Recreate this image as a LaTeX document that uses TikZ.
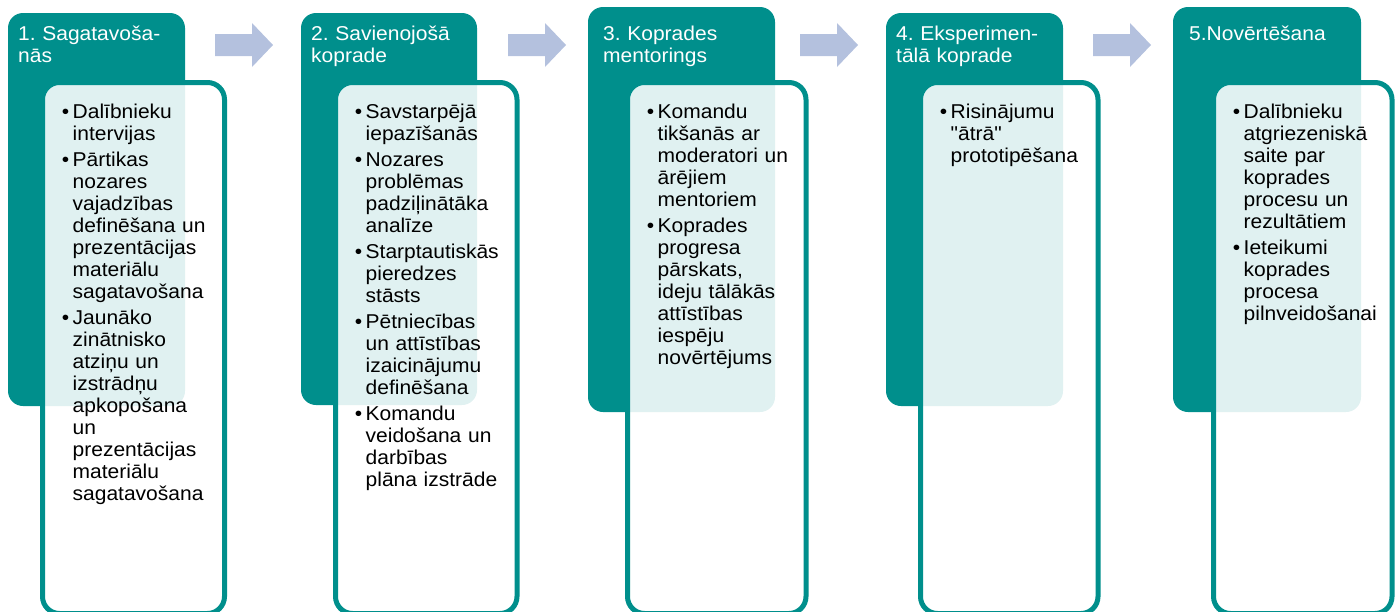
\documentclass[tikz,border=0pt]{standalone}
\usepackage{fontspec}
\setmainfont{Liberation Sans}
\newfontfamily\plainsans[FakeStretch=1.05]{Liberation Sans}
\definecolor{tealc}{RGB}{0,143,140}
\definecolor{arrowc}{RGB}{180,193,222}
\newcommand{\bul}{\leavevmode\llap{•\hspace{3.5pt}}}
\newcommand{\gap}{\par\vspace{4pt}}
\begin{document}
\frenchspacing
\begin{tikzpicture}[x=1pt,y=-1pt,
  hdr/.style={fill=tealc, rounded corners=15pt, inner sep=0pt, outer sep=0pt, anchor=north west},
  card/.style={draw=tealc, line width=5pt, fill=white, fill opacity=0.88, rounded corners=17pt, inner sep=0pt, outer sep=0pt, anchor=north west},
  htext/.style={text=white, font=\plainsans\fontsize{20}{22}\selectfont, align=left, text width=175pt, inner sep=0pt, anchor=base west},
  btext/.style={text=black, font=\plainsans\fontsize{20}{22}\selectfont, align=left, text width=170pt, inner sep=0pt, anchor=base west},
  blockarrow/.style={fill=arrowc, draw=none}]
\useasboundingbox (0,0) rectangle (1395,611);
\clip (0,0) rectangle (1395,611);
% headers
\node[hdr, minimum width=177pt, minimum height=393pt] (h1) at (8,13) {};
\node[hdr, minimum width=176pt, minimum height=392pt] (h2) at (301,13) {};
\node[hdr, minimum width=187pt, minimum height=405pt] (h3) at (588,7) {};
\node[hdr, minimum width=177pt, minimum height=393pt] (h4) at (886,13) {};
\node[hdr, minimum width=188pt, minimum height=405pt] (h5) at (1173,7) {};
% cards
\node[card, minimum width=182pt, minimum height=531pt] (c1) at (42.5,82.5) {};
\node[card, minimum width=181.5pt, minimum height=531pt] (c2) at (335.5,82.5) {};
\node[card, minimum width=178.5pt, minimum height=531pt] (c3) at (627.5,82.5) {};
\node[card, minimum width=177.5pt, minimum height=531pt] (c4) at (920.5,82.5) {};
\node[card, minimum width=178.5pt, minimum height=531pt] (c5) at (1213.5,82.5) {};
% arrows
\fill[blockarrow] (215,34) -- (252,34) -- (252,23) -- (273,45) -- (252,67) -- (252,56) -- (215,56) -- cycle;
\fill[blockarrow] (508,34) -- (545,34) -- (545,23) -- (566,45) -- (545,67) -- (545,56) -- (508,56) -- cycle;
\fill[blockarrow] (800,34) -- (837,34) -- (837,23) -- (858,45) -- (837,67) -- (837,56) -- (800,56) -- cycle;
\fill[blockarrow] (1093,34) -- (1130,34) -- (1130,23) -- (1151,45) -- (1130,67) -- (1130,56) -- (1093,56) -- cycle;
% header texts
\node[htext] (t1) at (18,40) {1. Sagatavoša-\\nās};
\node[htext] (t2) at (311,40) {2. Savienojošā\\koprade};
\node[htext] (t3) at (603,40) {3. Koprades\\mentorings};
\node[htext] (t4) at (896,40) {4. Eksperimen-\\tālā koprade};
\node[htext] (t5) at (1189,40) {5.Novērtēšana};
% body texts
\node[btext] (b1) at (72.5,118) {\bul Dalībnieku\\intervijas\gap
\bul Pārtikas\\nozares\\vajadzības\\definēšana un\\prezentācijas\\materiālu\\sagatavošana\gap
\bul Jaunāko\\zinātnisko\\atziņu un\\izstrādņu\\apkopošana\\un\\prezentācijas\\materiālu\\sagatavošana};
\node[btext] (b2) at (365.5,118) {\bul Savstarpējā\\iepazīšanās\gap
\bul Nozares\\problēmas\\padziļinātāka\\analīze\gap
\bul Starptautiskās\\pieredzes\\stāsts\gap
\bul Pētniecības\\un attīstības\\izaicinājumu\\definēšana\gap
\bul Komandu\\veidošana un\\darbības\\plāna izstrāde};
\node[btext] (b3) at (657.5,118) {\bul Komandu\\tikšanās ar\\moderatori un\\ārējiem\\mentoriem\gap
\bul Koprades\\progresa\\pārskats,\\ideju tālākās\\attīstības\\iespēju\\novērtējums};
\node[btext] (b4) at (950.5,118) {\bul Risinājumu\\"ātrā"\\prototipēšana};
\node[btext] (b5) at (1243.5,118) {\bul Dalībnieku\\atgriezeniskā\\saite par\\koprades\\procesu un\\rezultātiem\gap
\bul Ieteikumi\\koprades\\procesa\\pilnveidošanai};
\end{tikzpicture}
\end{document}
